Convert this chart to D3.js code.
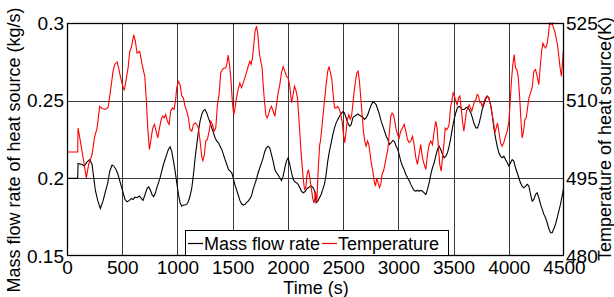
<!DOCTYPE html>
<html>
<head>
<meta charset="utf-8">
<script src="https://cdn.jsdelivr.net/npm/d3@7/dist/d3.min.js"></script>
<style>
  html, body { margin: 0; padding: 0; background: #fff; }
  svg text { font-family: "Liberation Sans", Arial, Helvetica, sans-serif; fill: #000; }
</style>
</head>
<body>
<svg id="chart" width="614" height="297"></svg>
<script>
// time (s) / mass flow rate (kg/s)
const massTime = [0,97,100,136,157,181,206,227,242,257,278,302,326,347,369,387,408,423,444,462,483,504,525,544,565,583,598,616,634,655,673,688,707,725,740,755,770,785,800,813,828,843,858,873,888,903,918,933,948,964,979,994,1009,1024,1039,1054,1069,1084,1099,1114,1130,1145,1160,1175,1190,1205,1220,1235,1250,1265,1280,1296,1311,1326,1341,1356,1371,1386,1401,1416,1431,1447,1462,1477,1492,1504,1519,1534,1549,1565,1580,1595,1610,1625,1640,1655,1670,1685,1700,1715,1731,1746,1761,1776,1791,1806,1821,1836,1851,1866,1882,1897,1912,1927,1942,1957,1972,1987,2002,2017,2033,2048,2063,2078,2093,2108,2123,2138,2153,2168,2183,2199,2214,2229,2244,2256,2271,2286,2301,2316,2331,2346,2361,2376,2392,2407,2422,2437,2452,2467,2482,2497,2512,2527,2542,2558,2573,2588,2603,2618,2633,2648,2663,2678,2693,2708,2724,2739,2754,2769,2784,2799,2814,2829,2844,2860,2875,2890,2905,2920,2935,2950,2965,2980,2995,3007,3022,3037,3052,3068,3083,3098,3113,3128,3143,3158,3173,3188,3203,3218,3234,3249,3264,3279,3294,3309,3324,3339,3354,3369,3384,3400,3415,3430,3445,3460,3475,3490,3505,3520,3535,3551,3566,3581,3596,3611,3626,3641,3656,3671,3686,3702,3717,3732,3747,3759,3774,3789,3804,3820,3835,3850,3865,3880,3895,3910,3925,3940,3955,3970,3986,4001,4016,4031,4046,4061,4076,4091,4106,4121,4137,4152,4167,4182,4197,4212,4227,4242,4257,4272,4288,4303,4318,4333,4348,4363,4378,4393,4408,4423,4438,4453,4468,4483,4500];
const massFlow = [0.2,0.2,0.2096,0.2089,0.2079,0.2106,0.2121,0.2089,0.2004,0.1922,0.1858,0.1806,0.1853,0.1913,0.1971,0.2046,0.2085,0.2079,0.2057,0.2025,0.1971,0.1918,0.1864,0.1849,0.1858,0.1871,0.1864,0.1879,0.1875,0.1886,0.1871,0.1858,0.1896,0.1935,0.1945,0.1925,0.1895,0.1882,0.1905,0.1939,0.1971,0.2004,0.2046,0.2089,0.2121,0.2154,0.2186,0.2203,0.2175,0.2111,0.2046,0.1971,0.1896,0.1843,0.1821,0.1828,0.1828,0.1832,0.1853,0.1886,0.1939,0.2025,0.2132,0.2218,0.2304,0.2368,0.2411,0.2436,0.2443,0.2421,0.2389,0.2357,0.2325,0.2293,0.2261,0.2239,0.2229,0.2207,0.2186,0.2154,0.2121,0.2089,0.2057,0.2046,0.2036,0.2004,0.1961,0.1929,0.1896,0.1858,0.1836,0.1828,0.1832,0.1843,0.1853,0.1868,0.1886,0.1929,0.1961,0.1994,0.2036,0.2068,0.21,0.2132,0.2175,0.2196,0.2207,0.2196,0.2154,0.2111,0.2057,0.2036,0.2021,0.2004,0.1986,0.2014,0.2068,0.2111,0.2132,0.2089,0.2036,0.1994,0.1978,0.1971,0.1961,0.1939,0.1918,0.1907,0.1913,0.1929,0.1939,0.1946,0.195,0.1939,0.1915,0.1843,0.1853,0.1875,0.1896,0.1929,0.1961,0.2025,0.2111,0.2175,0.2229,0.2282,0.2325,0.2357,0.2379,0.24,0.2415,0.2428,0.2421,0.2389,0.2357,0.2336,0.2346,0.2389,0.24,0.2406,0.2415,0.2406,0.24,0.2394,0.2379,0.2389,0.2411,0.2443,0.2471,0.2492,0.2486,0.2475,0.2443,0.2411,0.2368,0.2336,0.2304,0.2271,0.225,0.2218,0.2229,0.2244,0.2236,0.2207,0.2186,0.2154,0.2111,0.2079,0.2057,0.2025,0.2004,0.1986,0.1961,0.1939,0.1922,0.1918,0.1922,0.1918,0.1922,0.1918,0.1907,0.1896,0.1929,0.1971,0.2025,0.2068,0.21,0.2143,0.2186,0.2207,0.2186,0.2154,0.2132,0.2143,0.2164,0.2207,0.2261,0.2325,0.2379,0.2421,0.2454,0.2464,0.2454,0.2443,0.2443,0.2454,0.2458,0.2443,0.2421,0.2389,0.2351,0.2325,0.2325,0.2355,0.24,0.2443,0.2475,0.2507,0.2529,0.2518,0.2475,0.2411,0.2325,0.2261,0.2207,0.2164,0.2143,0.2132,0.2143,0.2121,0.21,0.2079,0.21,0.2121,0.2111,0.2068,0.2036,0.2004,0.1971,0.195,0.1939,0.195,0.1961,0.195,0.1896,0.1853,0.1864,0.1896,0.1907,0.1875,0.1832,0.18,0.1768,0.1746,0.1714,0.1675,0.165,0.165,0.1675,0.1704,0.1746,0.1789,0.1832,0.1886,0.195];

// time (s) / temperature of heat source (K)
const tempTime = [0,97,100,121,151,175,196,227,248,272,296,317,347,372,393,417,432,453,468,483,501,519,538,553,568,583,604,619,634,658,680,704,719,731,746,758,776,791,807,822,837,849,864,879,894,909,924,939,954,970,982,994,1009,1024,1039,1054,1069,1084,1099,1114,1130,1145,1160,1175,1190,1205,1220,1229,1244,1256,1271,1287,1302,1317,1332,1347,1362,1377,1392,1407,1422,1437,1447,1459,1471,1483,1498,1510,1522,1534,1549,1565,1580,1595,1610,1625,1640,1655,1667,1679,1691,1703,1716,1728,1740,1752,1767,1776,1788,1800,1812,1824,1836,1851,1866,1882,1897,1912,1927,1942,1957,1972,1987,2002,2017,2033,2048,2060,2072,2087,2099,2111,2123,2138,2150,2162,2174,2186,2199,2211,2226,2238,2250,2262,2275,2288,2295,2307,2322,2334,2346,2361,2373,2385,2398,2410,2422,2437,2452,2467,2479,2491,2503,2515,2527,2539,2552,2564,2576,2588,2600,2612,2624,2636,2648,2660,2672,2684,2696,2708,2721,2733,2745,2757,2769,2781,2793,2805,2817,2829,2841,2853,2866,2878,2890,2905,2920,2932,2944,2956,2968,2980,2992,3007,3022,3037,3052,3068,3083,3098,3113,3128,3143,3158,3173,3188,3203,3218,3234,3249,3264,3279,3294,3309,3324,3339,3351,3363,3375,3388,3400,3412,3424,3436,3448,3460,3472,3484,3496,3508,3520,3532,3545,3557,3569,3581,3593,3605,3617,3629,3641,3653,3665,3677,3690,3702,3714,3726,3738,3750,3759,3774,3789,3804,3820,3835,3850,3865,3874,3886,3898,3910,3925,3940,3955,3970,3986,4001,4013,4025,4037,4049,4061,4073,4085,4097,4109,4121,4134,4146,4158,4170,4182,4197,4212,4227,4242,4257,4272,4284,4297,4309,4321,4333,4345,4357,4369,4381,4393,4405,4417,4429,4441,4453,4465,4477,4489,4500];
const temperature = [500.1,500.1,504.7,502.2,498.3,495.1,497.7,499.6,502.8,504.7,508.9,508.5,508.3,508.7,511.8,515.7,517,517.5,516.3,514.7,513.1,512,514.4,516.3,519.5,520.3,522.7,521.5,519.2,519.5,517,514.7,509.9,504.7,500.6,502.2,504.7,505.4,504.1,502.8,504.7,506,507,506.7,507.3,506,505.4,508,508.6,508.3,509.9,512.5,513.7,513.1,510.9,510.5,508.9,508,506.7,504.4,504.1,505.4,505.7,505.4,504.7,502.2,499.3,498.3,499.6,502.2,502.5,504.1,506,505.4,504.1,504.7,509.2,511.2,515.4,516,516.3,516.3,517,518.8,517,514.4,509.5,507.3,508.6,510.5,512.1,513.4,512.5,513.4,514.4,515.4,516.6,517.6,517,518.2,520.8,523.4,524.4,522.8,519.5,517.9,516.3,513.1,509.9,507.3,506.7,507.3,508.3,508.9,508,507,509.2,511.5,513.1,515.4,516.6,515.7,514.7,514.4,512.8,509.6,511.2,512.8,512.1,510.5,506.7,502.8,499,495.1,492.9,493.2,495.8,496.7,495.1,493.2,491,490.2,492.4,490.4,497,501.5,502.2,504.7,508,510.5,513.1,515.7,516.6,515.4,514.1,511.2,508.6,508.6,508.9,508.3,507.3,506,503.5,501.9,504.1,506.4,507.3,506.4,507,509.2,511.8,513.7,515.4,515.7,513.7,510.5,507.3,504.1,502.2,501.2,502.2,501.5,499.6,497.7,496.4,494.5,493.5,495.1,494.1,493.2,493.8,495.8,496.4,497.7,499,500.6,504.1,507,507.6,507.3,506,504.5,503.5,502.8,504.1,504.7,505.4,504.1,502.5,501.9,502.2,503.1,501.5,499,497.7,499.6,501.5,499,497.7,496.7,499.6,501.5,502.2,501.5,504.1,506,504.7,500.9,497.7,496.4,499,501.5,504.7,504.4,504.7,505.4,508.6,509.9,511.5,510.9,509.9,509.2,510.5,510.9,508.6,506,504.1,506,508,508.6,509.2,508.6,508,508.9,509.9,510.2,511.2,510.9,509.6,509.6,508.9,509.6,510.5,510.9,510.5,509.2,507.3,505.4,503.8,504.7,505.7,504.1,501.9,501.2,501.9,503.1,504.1,506,509.9,514.1,517,518.9,516.3,516,514.7,511.2,506.7,502.8,504.1,506.4,506.7,508.6,510.5,511.5,512.5,515.7,516,514.7,513.1,516.3,519.5,521.1,520.5,520.2,520.8,522.4,525,524.7,525,524,523.4,522.1,520.8,518.6,516.3,514.7,518.2,521.1];

const timeTicks = [0, 500, 1000, 1500, 2000, 2500, 3000, 3500, 4000, 4500];
const massTicks = [0.15, 0.2, 0.25, 0.3];
const tempTicks = [480, 495, 510, 525];
const legendLabels = ['Mass flow rate', 'Temperature'];
const seriesColors = ['#000000', '#ff0000'];

(function () {
  const svg = d3.select('#chart');
  const mLeft = 67, mRight = 564, mTop = 23, mBottom = 256;

  const x = d3.scaleLinear().domain([0, 4500]).range([mLeft, mRight]);
  const yL = d3.scaleLinear().domain([0.15, 0.3]).range([mBottom, mTop]);
  const yR = d3.scaleLinear().domain([480, 525]).range([mBottom, mTop]);

  svg.append('rect').attr('x', 0).attr('y', 0).attr('width', 614).attr('height', 297).attr('fill', '#fff');

  // grid
  const grid = svg.append('g').attr('stroke', '#3a3a3a').attr('stroke-width', 1);
  grid.selectAll('line.v').data(timeTicks.slice(1, -1)).join('line')
    .attr('x1', d => Math.round(x(d)) + 0.5).attr('x2', d => Math.round(x(d)) + 0.5)
    .attr('y1', mTop).attr('y2', mBottom);
  grid.selectAll('line.h').data(massTicks.slice(1, -1)).join('line')
    .attr('y1', d => Math.round(yL(d)) + 0.5).attr('y2', d => Math.round(yL(d)) + 0.5)
    .attr('x1', mLeft).attr('x2', mRight);

  svg.append('clipPath').attr('id', 'clip').append('rect')
    .attr('x', mLeft).attr('y', mTop - 1).attr('width', mRight - mLeft).attr('height', mBottom - mTop + 2);

  const plot = svg.append('g').attr('clip-path', 'url(#clip)');

  const massLine = d3.line().x((d, i) => x(massTime[i])).y(d => yL(d));
  const tempLine = d3.line().x((d, i) => x(tempTime[i])).y(d => yR(d));

  plot.append('path').datum(massFlow).attr('d', massLine)
    .attr('fill', 'none').attr('stroke', seriesColors[0]).attr('stroke-width', 1.1);
  plot.append('path').datum(temperature).attr('d', tempLine)
    .attr('fill', 'none').attr('stroke', seriesColors[1]).attr('stroke-width', 1.1);

  // axes
  const fs = '18px';
  const tickFs = '19px';
  const ax = svg.append('g').attr('transform', 'translate(0,' + mBottom + ')')
    .call(d3.axisBottom(x).tickValues(timeTicks).tickSize(0).tickPadding(5).tickFormat(d3.format('d')));
  const axL = svg.append('g').attr('transform', 'translate(' + mLeft + ',0)')
    .call(d3.axisLeft(yL).tickValues(massTicks).tickSize(0).tickPadding(3).tickFormat(d => String(d)));
  const axR = svg.append('g').attr('transform', 'translate(' + mRight + ',0)')
    .call(d3.axisRight(yR).tickValues(tempTicks).tickSize(0).tickPadding(2).tickFormat(d3.format('d')));
  [ax, axL, axR].forEach(a => {
    a.select('.domain').remove();
    a.selectAll('text').attr('font-size', tickFs).attr('font-family', null);
  });

  // frame
  svg.append('rect').attr('x', mLeft + 0.5).attr('y', mTop + 0.5)
    .attr('width', mRight - mLeft - 1).attr('height', mBottom - mTop - 1)
    .attr('fill', 'none').attr('stroke', '#000').attr('stroke-width', 1.3);

  // axis titles
  svg.append('text').attr('x', 316).attr('y', 294).attr('text-anchor', 'middle')
    .attr('font-size', fs).text('Time (s)');
  svg.append('text').attr('transform', 'translate(20,150) rotate(-90)').attr('text-anchor', 'middle')
    .attr('font-size', fs).text('Mass flow rate of heat source (kg/s)');
  svg.append('text').attr('transform', 'translate(611,139) rotate(-90)').attr('text-anchor', 'middle')
    .attr('font-size', fs).text('Temperature of heat source(K)');

  // legend
  const lg = svg.append('g');
  lg.append('rect').attr('x', 185.5).attr('y', 230.5).attr('width', 263).attr('height', 25)
    .attr('fill', '#fff').attr('stroke', '#000').attr('stroke-width', 1);
  const legendX = [188, 322];
  legendLabels.forEach((lab, i) => {
    lg.append('line').attr('x1', legendX[i]).attr('x2', legendX[i] + 15).attr('y1', 243.5).attr('y2', 243.5)
      .attr('stroke', seriesColors[i]).attr('stroke-width', 1.2);
    lg.append('text').attr('x', legendX[i] + 16).attr('y', 250).attr('font-size', fs).text(lab);
  });
})();
</script>
</body>
</html>
